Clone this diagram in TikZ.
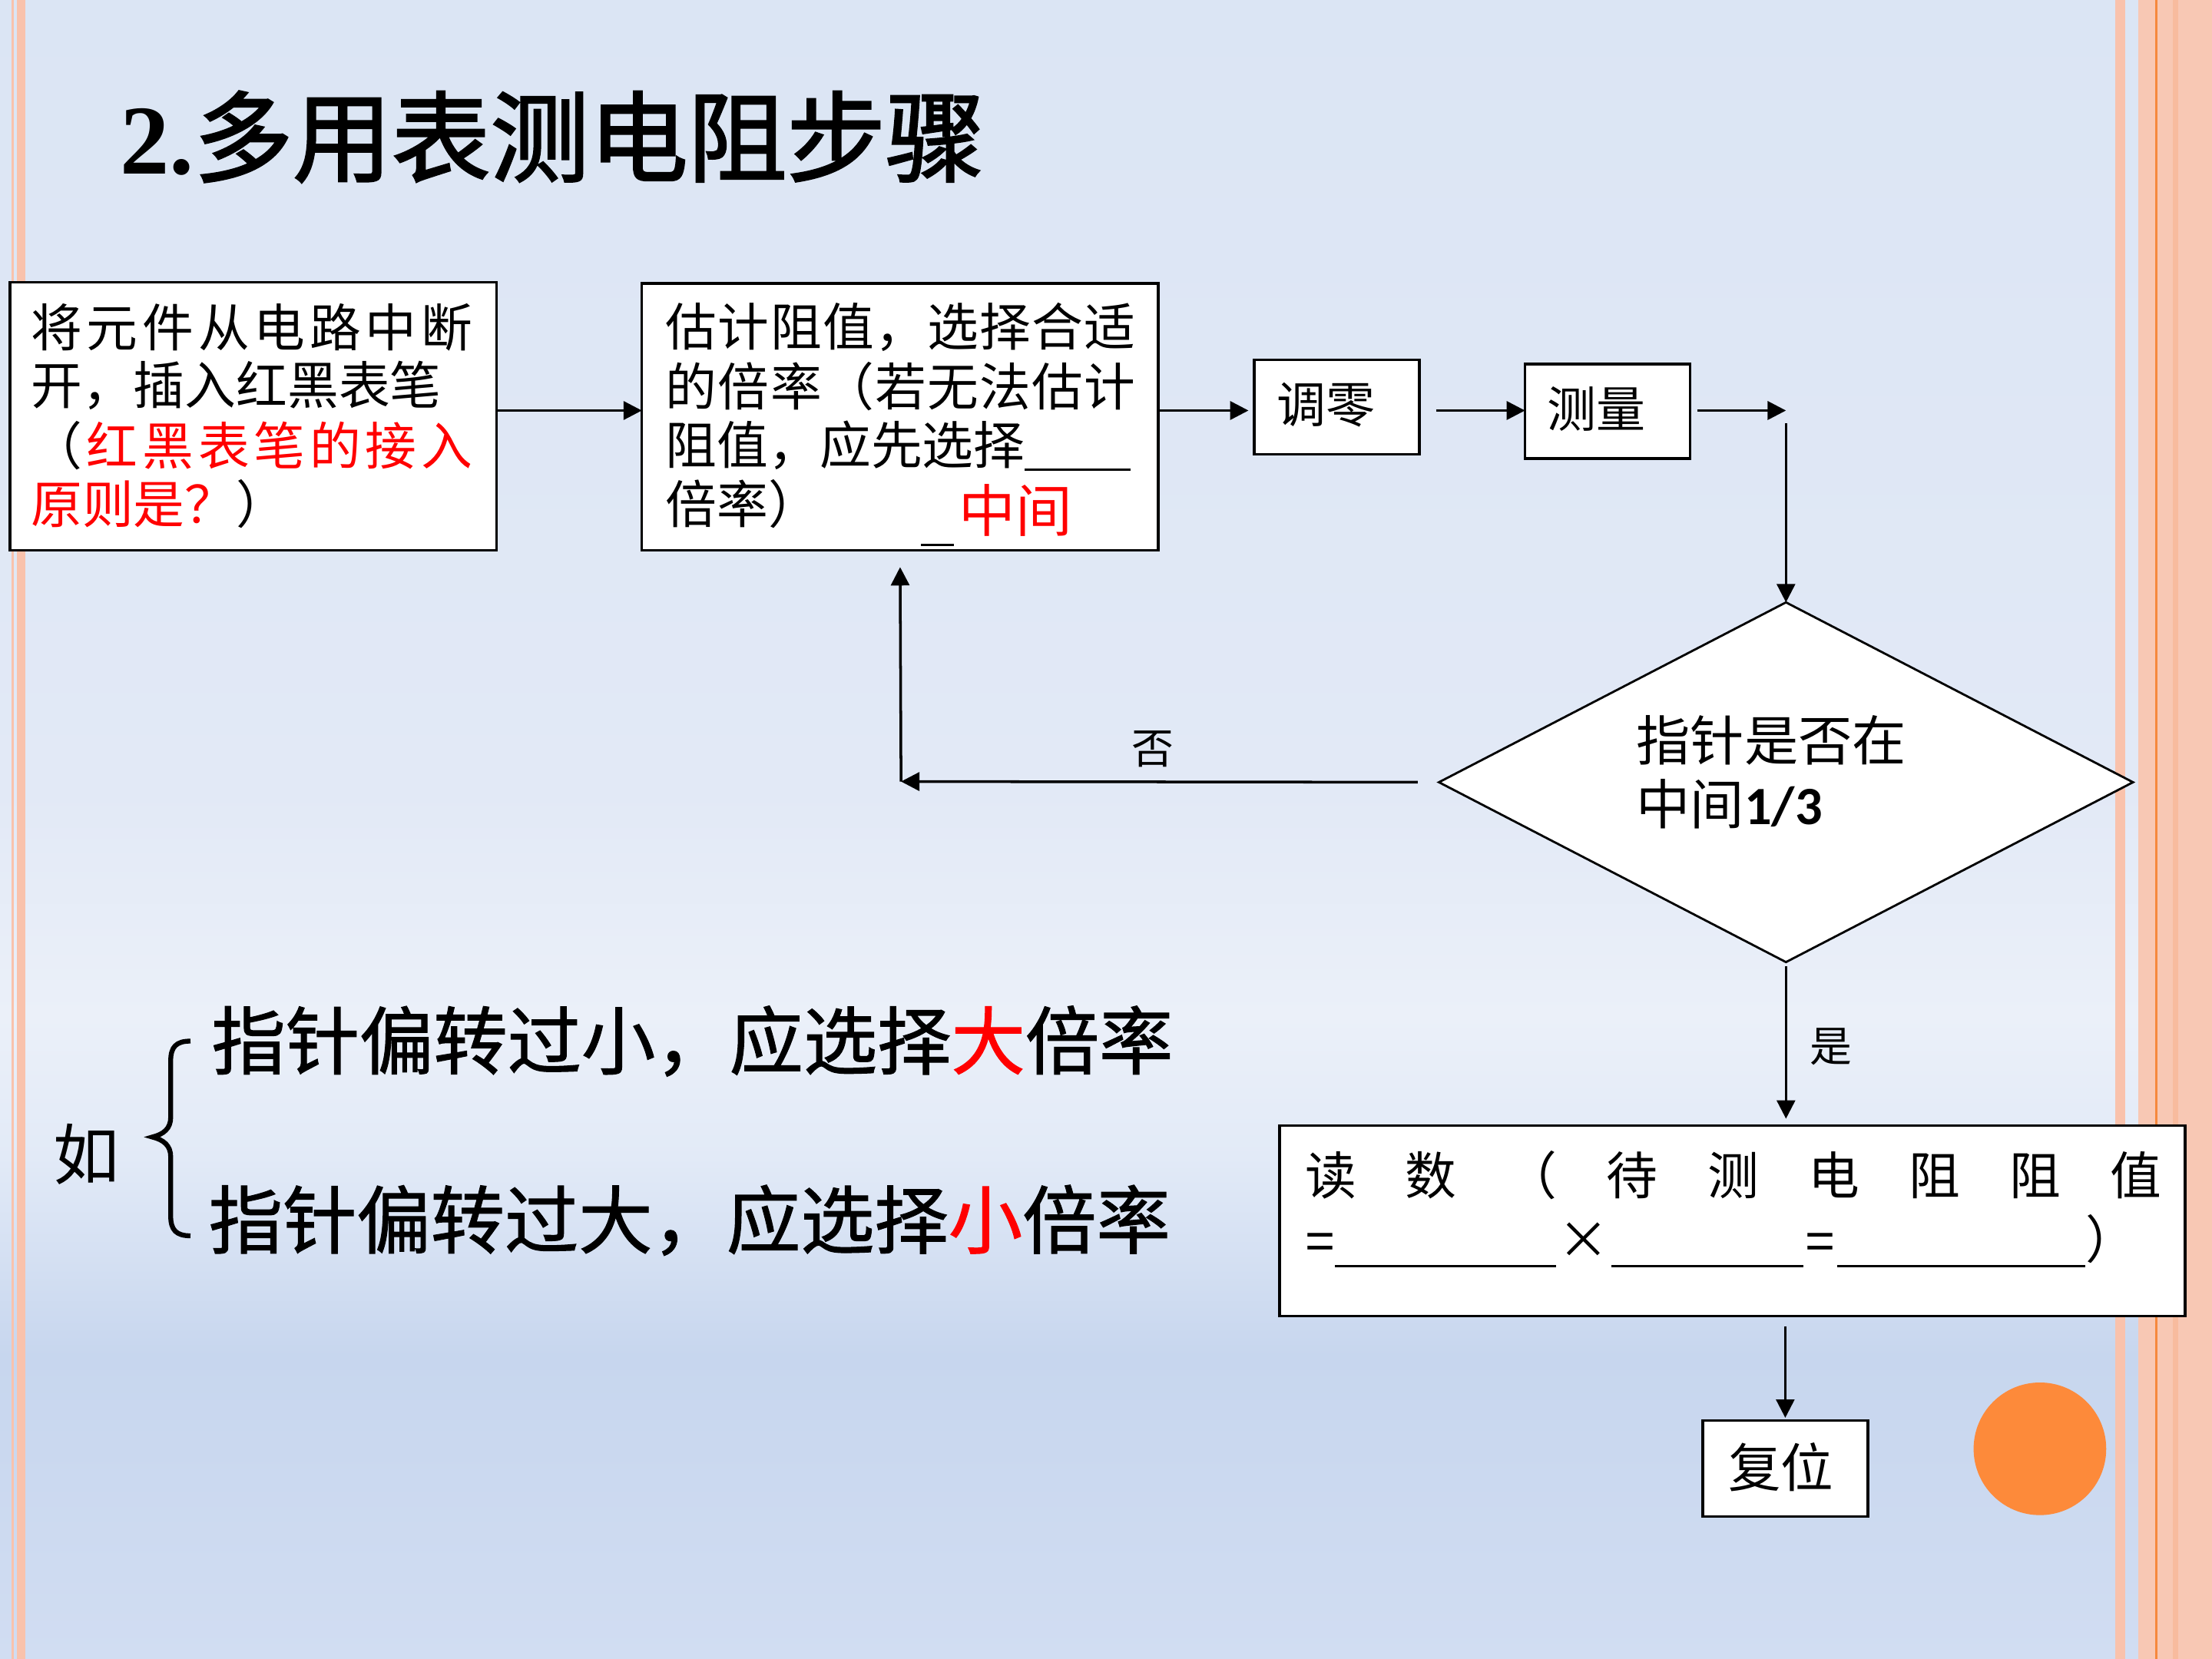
\documentclass[tikz,border=0pt]{standalone}
\usepackage{fontspec}
\setmainfont{Noto Sans CJK SC}
\newfontfamily\cjkfb{Noto Sans CJK SC}[FakeBold=1.2]
\newfontfamily\cjktb{Noto Sans CJK SC}[FakeBold=2]
\newfontfamily\serifb{Liberation Serif}
\newfontfamily\calib{Carlito}
\newfontfamily\arial{Liberation Sans}
\usetikzlibrary{arrows.meta,shapes.geometric,calc}
\newlength\ux
\setlength\ux{0.18367mm}
\newcommand\fs[1]{\fontsize{#1}{#1}\selectfont}
\definecolor{bga}{HTML}{DBE5F4}
\definecolor{bgb}{HTML}{E2E9F6}
\definecolor{bgc}{HTML}{EBF0F9}
\definecolor{bgd}{HTML}{E2EAF7}
\definecolor{bge}{HTML}{C7D6EE}
\definecolor{bgf}{HTML}{D1DDF2}
\definecolor{stripe}{HTML}{F9C2AC}
\definecolor{panel}{HTML}{F8C8B4}
\definecolor{panelband}{HTML}{F8BB9E}
\definecolor{oline}{HTML}{F6883C}
\definecolor{orangec}{HTML}{FD8A3A}
\definecolor{redt}{HTML}{FF0000}
\begin{document}
\begin{tikzpicture}[x=\ux,y=-\ux,
  box/.style={draw=black,line width=1pt,fill=white,inner sep=0pt,outer sep=0pt},
  txt/.style={inner sep=0pt,outer sep=0pt,anchor=west},
  btxt/.style={inner sep=0pt,outer sep=0pt,anchor=base west},
  arr/.style={line width=1pt,-{Triangle[length=6.8pt,width=6.8pt]}},
  thinarr/.style={line width=0.8pt,-{Triangle[length=6.8pt,width=6.8pt]}},
  lab/.style={inner sep=0pt,outer sep=0pt,font=\fs{15.6}}]
\useasboundingbox (0,0) rectangle (1568,1176);
% background
\shade[top color=bga,bottom color=bgb] (0,0) rectangle (1568,561);
\shade[top color=bgb,bottom color=bgc] (0,560) rectangle (1568,721);
\shade[top color=bgc,bottom color=bgd] (0,720) rectangle (1568,821);
\shade[top color=bgd,bottom color=bge] (0,820) rectangle (1568,961);
\shade[top color=bge,bottom color=bgf] (0,960) rectangle (1568,1176);
% borders
\fill[stripe] (8.2,0) rectangle (9.8,1176);
\fill[stripe] (12,0) rectangle (18,1176);
\fill[stripe] (1499.4,0) rectangle (1506.4,1176);
\fill[panel] (1515.8,0) rectangle (1568,1176);
\fill[panelband] (1540.3,0) rectangle (1544,1176);
\fill[oline] (1527.7,0) rectangle (1529.4,1176);
% title
\node[txt] (title) at (85,97) {\fs{36.6}{\serifb\bfseries 2.}{\cjktb 多用表测电阻步骤}};
% boxes
\node[box,minimum width=345\ux,minimum height=190\ux] (boxA) at (179.5,295) {};
\node[box,minimum width=366\ux,minimum height=189\ux] (boxB) at (638,295.5) {};
\node[box,minimum width=117\ux,minimum height=67\ux] (zero) at (947.5,288.5) {};
\node[box,minimum width=117\ux,minimum height=67\ux] (meas) at (1139.5,291.5) {};
\node[draw=black,fill=white,shape=diamond,line width=0.8pt,inner sep=0pt,outer sep=0pt,
  minimum width=492\ux,minimum height=255\ux] (dia) at (1266,554.5) {};
\node[box,minimum width=642\ux,minimum height=135\ux] (read) at (1228,865.5) {};
\node[box,minimum width=117\ux,minimum height=68\ux] (reset) at (1265.5,1041) {};
% box A text
\begin{scope}[every node/.append style={font=\fs{19}}]
\node[txt] (a1) at (22,232) {\makebox[313\ux][s]{将\hfill 元\hfill 件\hfill 从\hfill 电\hfill 路\hfill 中\hfill 断}};
\node[txt] (a2) at (22,273) {开，插入红黑表笔};
\node[txt] (a3) at (22,316) {\makebox[313\ux][s]{（\hfill\textcolor{redt}{红\hfill 黑\hfill 表\hfill 笔\hfill 的\hfill 接\hfill 入}}};
\node[txt] (a4) at (22,357) {\textcolor{redt}{原则是？}）};
% box B text
\node[txt] (b1) at (472,232) {\makebox[333\ux][s]{估\hfill 计\hfill 阻\hfill 值\hfill ，\hfill 选\hfill 择\hfill 合\hfill 适}};
\node[txt] (b2) at (472,274) {\makebox[333\ux][s]{的\hfill 倍\hfill 率\hfill （\hfill 若\hfill 无\hfill 法\hfill 估\hfill 计}};
\node[btxt] (b3) at (472,329) {阻值，应先选择\rule[-2.6pt]{75\ux}{0.9pt}};
\node[txt] (b4) at (472,357) {倍率）};
% read box text
\node[txt] (r1) at (925,833) {\makebox[607\ux][s]{读\hfill 数\hfill （\hfill 待\hfill 测\hfill 电\hfill 阻\hfill 阻\hfill 值}};
\node[btxt] (r2) at (925,892) {{\arial =}\rule[-3.4pt]{157\ux}{0.85pt}\makebox[39\ux]{×}\rule[-3.4pt]{136\ux}{0.85pt}\makebox[24\ux]{\arial =}\rule[-3.4pt]{176\ux}{0.85pt}）};
\end{scope}
\node[btxt] (mid) at (653,377) {\fs{21}\rule[-5.4pt]{23\ux}{1pt}\hspace{4\ux}\textcolor{redt}{中间}};
\node[txt] (zt) at (905,287) {\fs{18.2}调零};
\node[txt] (mt) at (1097,290) {\fs{18.2}测量};
\node[txt] (rt) at (1225,1040) {\fs{19.5}复位};
\node[txt] (d1) at (1160,525) {\fs{20}指针是否在};
\node[txt] (d2) at (1160,570) {\fs{20}中间{\calib\bfseries 1/3}};
% labels
\node[lab] (no) at (817,531) {否};
\node[lab] (yes) at (1298,742) {是};
% arrows
\coordinate (hl) at (0,291);
\coordinate (corner) at (1266,291);
\coordinate (vstart) at (1266,300);
\coordinate (nocorner) at (638.7,554);
\draw[arr] (boxA.east |- hl) -- (boxB.west |- hl);
\draw[arr,shorten >=4\ux] (boxB.east |- hl) -- (zero.west |- hl);
\draw[arr,shorten <=12\ux] (zero.east |- hl) -- (meas.west |- hl);
\draw[arr,shorten <=5\ux] (meas.east |- hl) -- (corner);
\draw[thinarr] (vstart) -- (dia.north);
\draw[arr,shorten <=15\ux] (dia.west) -- (nocorner);
\draw[arr,shorten >=12\ux] (nocorner) -- (boxB.south);
\draw[thinarr,shorten <=3\ux,shorten >=5\ux] (dia.south) -- (dia.south |- read.north);
\draw[thinarr,shorten <=7\ux,shorten >=2\ux] (reset.north |- read.south) -- (reset.north);
% bottom notes
\node[txt] (ru) at (38,818) {\fs{24.5}如};
\draw[line width=1.8pt] (135,738) .. controls (125,738) and (121,742) .. (121,752) -- (121,792)
  .. controls (121,800) and (116,804) .. (108,806) .. controls (116,808) and (121,812) .. (121,820)
  -- (121,862) .. controls (121,872) and (125,876) .. (135,876);
\node[txt] (n1) at (150,738) {\fs{27.4}\cjkfb 指针偏转过小，应选择\textcolor{redt}{大}倍率};
\node[txt] (n2) at (148,865) {\fs{27.4}\cjkfb 指针偏转过大，应选择\textcolor{redt}{小}倍率};
% orange dot
\fill[orangec] (1446,1027) circle[radius=47];
\end{tikzpicture}
\end{document}
